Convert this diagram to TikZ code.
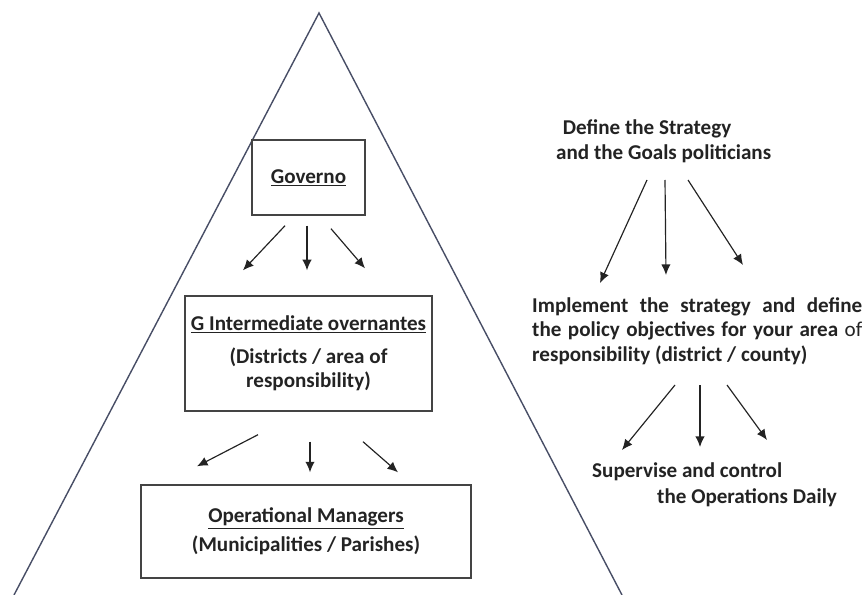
\documentclass[tikz,border=0pt]{standalone}
\usepackage{fontspec}
\setmainfont{Carlito}
\usetikzlibrary{arrows.meta}
\definecolor{edgeblue}{RGB}{72,78,102}
\definecolor{ink}{RGB}{35,35,35}

\begin{document}
\begin{tikzpicture}[x=0.03cm, y=-0.03cm, >={Latex[length=9pt,width=8pt]},
	box/.style = {draw=ink!85, line width=1.2pt, align=center, text=ink, font=\fontsize{18}{21}\selectfont\bfseries},
	txt/.style = {inner sep=0, align=left, text=ink, font=\fontsize{18}{21}\selectfont\bfseries},
	arr/.style = {->, line width=1pt, draw=ink}]
	\useasboundingbox (0,0) rectangle (865,595);
	% pyramid
	\draw[edgeblue, line width=1.2pt] (14,595) -- (319,13) -- (622,595);
	% left side
	\node[box, minimum width=3.39cm, minimum height=2.25cm] (gov) at (308.5,177.5){\underline{Governo}};
	\node[box, minimum width=7.41cm, minimum height=3.45cm] (mid) at (308.5,353.5){\underline{G Intermediate overnantes}\\[7pt] (Districts / area of\\ responsibility)};
	\node[box, minimum width=9.9cm, minimum height=2.79cm] (ops) at (306,531.5){\underline{Operational Managers}\\[4pt] (Municipalities / Parishes)};
	\draw[arr] ([shift={(-23.5,10)}]gov.south) -- ([shift={(-65.5,-25)}]mid.north);
	\draw[arr] ([shift={(-1.5,10)}]gov.south) -- ([shift={(-1.5,-25)}]mid.north);
	\draw[arr] ([shift={(22.5,13)}]gov.south) -- ([shift={(56.5,-27)}]mid.north);
	\draw[arr] ([shift={(-50.5,23)}]mid.south) -- ([shift={(-109,-18)}]ops.north);
	\draw[arr] ([shift={(1.5,30)}]mid.south) -- ([shift={(4,-12)}]ops.north);
	\draw[arr] ([shift={(54.5,30)}]mid.south) -- ([shift={(92,-12)}]ops.north);
	% right side
	\node[txt, anchor=south west] (def) at (556,163){\hspace*{0.2cm}Define the Strategy\\ and the Goals politicians};
	\node[txt, anchor=north west] (impl) at (532,297){\makebox[9.9cm][s]{Implement the strategy and define}\\ \makebox[9.9cm][s]{the policy objectives for your area \mdseries of}\\ responsibility (district / county)};
	\node[txt, anchor=north west, font=\fontsize{18}{23}\selectfont\bfseries] (sup) at (592,462){Supervise and control\\ \hspace*{1.95cm}the Operations Daily};
	\draw[arr] ([shift={(91,17)}]def.south west) -- ([shift={(68,-14)}]impl.north west);
	\draw[arr] ([shift={(109,17)}]def.south west) -- ([shift={(134,-22)}]impl.north west);
	\draw[arr] ([shift={(132,17)}]def.south west) -- ([shift={(211,-32)}]impl.north west);
	\draw[arr] ([shift={(143,88)}]impl.north west) -- ([shift={(30,-12)}]sup.north west);
	\draw[arr] ([shift={(168,88)}]impl.north west) -- ([shift={(108,-15)}]sup.north west);
	\draw[arr] ([shift={(195,88)}]impl.north west) -- ([shift={(175,-22)}]sup.north west);
\end{tikzpicture}
\end{document}
